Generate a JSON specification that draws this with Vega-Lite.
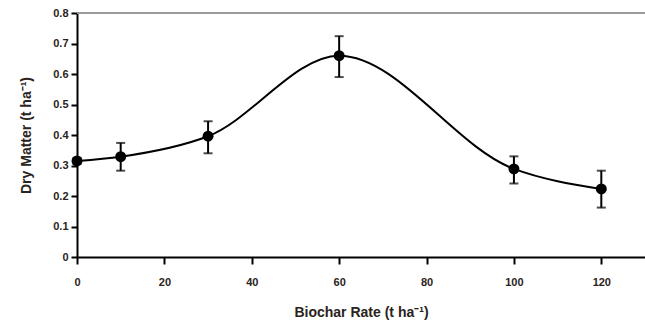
{
  "$schema": "https://vega.github.io/schema/vega-lite/v6.json",
  "autosize": {"type": "none"},
  "padding": {"left": 77, "top": 13, "right": 0, "bottom": 72},
  "width": 568,
  "height": 244,
  "config": {
    "view": {"stroke": null},
    "font": "Liberation Sans",
    "axis": {
      "grid": false,
      "domainColor": "#000000",
      "domainWidth": 2,
      "tickColor": "#000000",
      "tickWidth": 2,
      "labelFont": "Liberation Sans",
      "labelFontWeight": "bold",
      "labelFontSize": 11,
      "labelColor": "#2a2320",
      "labelOverlap": false,
      "labelFlush": false,
      "titleFont": "Liberation Sans",
      "titleFontWeight": "bold",
      "titleFontSize": 14,
      "titleColor": "#2a2320"
    },
    "axisY": {"tickCount": 12}
  },
  "data": {
    "values": [
      {"rate": 0, "dm": 0.315, "lo": 0.305, "hi": 0.325},
      {"rate": 10, "dm": 0.329, "lo": 0.283, "hi": 0.374},
      {"rate": 30, "dm": 0.396, "lo": 0.340, "hi": 0.445},
      {"rate": 60, "dm": 0.660, "lo": 0.590, "hi": 0.724},
      {"rate": 100, "dm": 0.289, "lo": 0.241, "hi": 0.330},
      {"rate": 120, "dm": 0.223, "lo": 0.162, "hi": 0.283}
    ]
  },
  "layer": [
    {
      "mark": {"type": "line", "interpolate": "monotone", "color": "#000000", "strokeWidth": 2},
      "encoding": {
        "x": {
          "field": "rate", "type": "quantitative",
          "scale": {"domain": [0, 130], "nice": false},
          "axis": {"values": [0, 20, 40, 60, 80, 100, 120], "tickCount": 12, "tickSize": 7, "labelPadding": 12, "title": "Biochar Rate  (t ha⁻¹)", "titlePadding": 18}
        },
        "y": {
          "field": "dm", "type": "quantitative",
          "scale": {"domain": [0, 0.8], "nice": false},
          "axis": {"values": [0, 0.1, 0.2, 0.3, 0.4, 0.5, 0.6, 0.7, 0.8], "tickCount": 12, "format": ".1~f", "tickSize": 6, "labelPadding": 3, "title": "Dry Matter (t ha⁻¹)", "titlePadding": 19}
        }
      }
    },
    {
      "mark": {"type": "rule", "color": "#9a9a9a", "strokeWidth": 1.5},
      "encoding": {"y": {"datum": 0.8, "type": "quantitative",
        "axis": {"values": [0, 0.1, 0.2, 0.3, 0.4, 0.5, 0.6, 0.7, 0.8], "tickCount": 12, "format": ".1~f", "tickSize": 6, "labelPadding": 3, "title": "Dry Matter (t ha⁻¹)", "titlePadding": 19}}}
    },
    {
      "mark": {"type": "rule", "color": "#000000", "strokeWidth": 2},
      "encoding": {
        "x": {"field": "rate", "type": "quantitative"},
        "y": {"field": "lo", "type": "quantitative",
          "axis": {"values": [0, 0.1, 0.2, 0.3, 0.4, 0.5, 0.6, 0.7, 0.8], "tickCount": 12, "format": ".1~f", "tickSize": 6, "labelPadding": 3, "title": "Dry Matter (t ha⁻¹)", "titlePadding": 19}},
        "y2": {"field": "hi"}
      }
    },
    {
      "mark": {"type": "tick", "color": "#000000", "orient": "horizontal", "size": 9, "thickness": 2},
      "encoding": {
        "x": {"field": "rate", "type": "quantitative"},
        "y": {"field": "lo", "type": "quantitative",
          "axis": {"values": [0, 0.1, 0.2, 0.3, 0.4, 0.5, 0.6, 0.7, 0.8], "tickCount": 12, "format": ".1~f", "tickSize": 6, "labelPadding": 3, "title": "Dry Matter (t ha⁻¹)", "titlePadding": 19}}
      }
    },
    {
      "mark": {"type": "tick", "color": "#000000", "orient": "horizontal", "size": 9, "thickness": 2},
      "encoding": {
        "x": {"field": "rate", "type": "quantitative"},
        "y": {"field": "hi", "type": "quantitative",
          "axis": {"values": [0, 0.1, 0.2, 0.3, 0.4, 0.5, 0.6, 0.7, 0.8], "tickCount": 12, "format": ".1~f", "tickSize": 6, "labelPadding": 3, "title": "Dry Matter (t ha⁻¹)", "titlePadding": 19}}
      }
    },
    {
      "mark": {"type": "point", "filled": true, "shape": "circle", "color": "#000000", "opacity": 1, "size": 120},
      "encoding": {
        "x": {"field": "rate", "type": "quantitative"},
        "y": {"field": "dm", "type": "quantitative",
          "axis": {"values": [0, 0.1, 0.2, 0.3, 0.4, 0.5, 0.6, 0.7, 0.8], "tickCount": 12, "format": ".1~f", "tickSize": 6, "labelPadding": 3, "title": "Dry Matter (t ha⁻¹)", "titlePadding": 19}}
      }
    }
  ]
}
